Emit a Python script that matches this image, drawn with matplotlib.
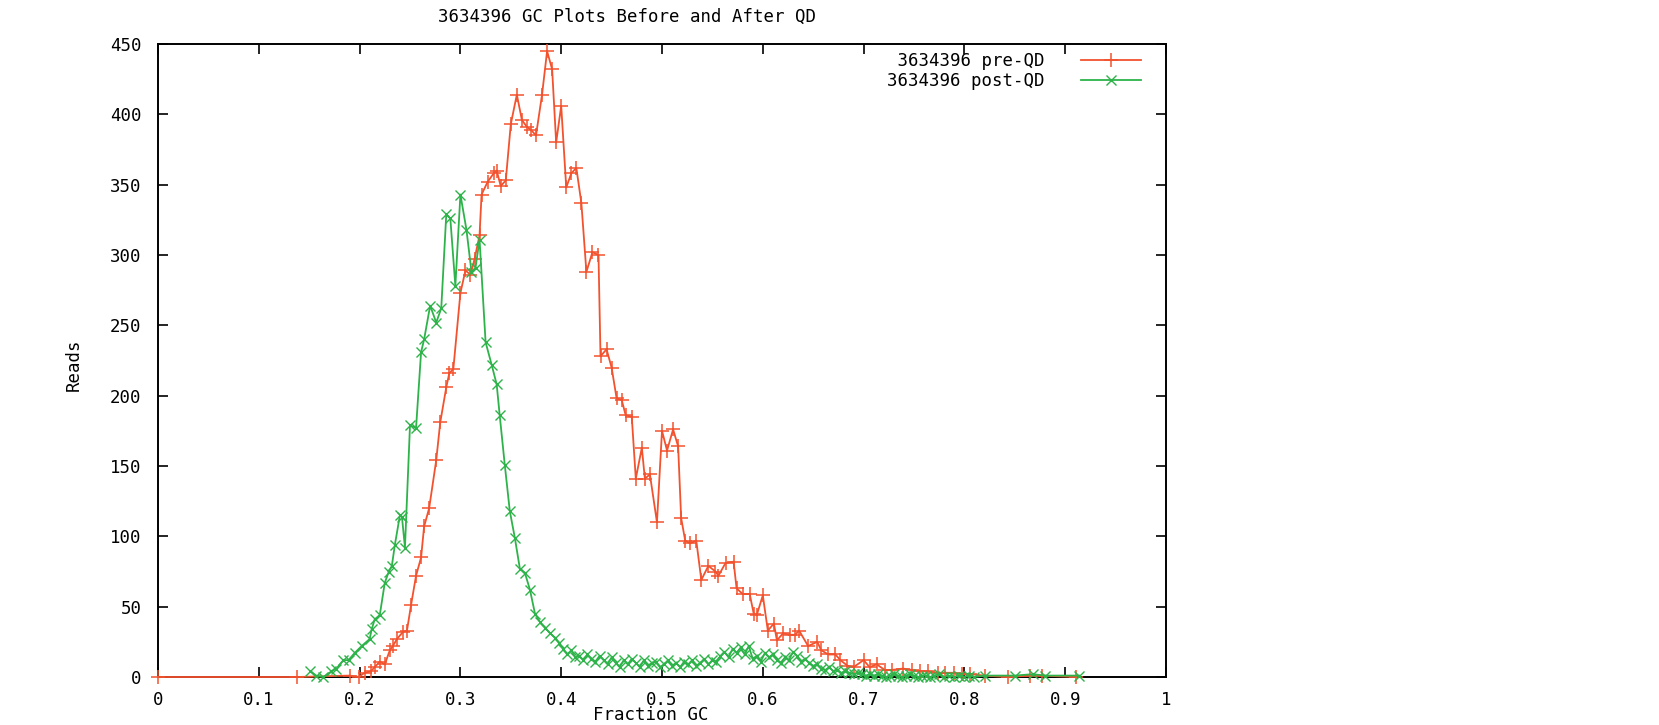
import numpy as np
import matplotlib
matplotlib.use('Agg')
import matplotlib.pyplot as plt

# GC fraction vs read counts
pre_gc = [0, 0.138, 0.19, 0.199, 0.205, 0.211, 0.215, 0.22, 0.225, 0.23, 0.233, 0.237,
          0.243, 0.247, 0.251, 0.256, 0.261, 0.264, 0.269, 0.276, 0.28, 0.286, 0.289,
          0.293, 0.3, 0.305, 0.31, 0.314, 0.319, 0.321, 0.327, 0.333, 0.336, 0.34, 0.345,
          0.35, 0.356, 0.361, 0.366, 0.37, 0.375, 0.381, 0.386, 0.391, 0.395, 0.4, 0.405,
          0.41, 0.415, 0.42, 0.425, 0.431, 0.437, 0.439, 0.445, 0.45, 0.455, 0.46, 0.464,
          0.47, 0.474, 0.48, 0.483, 0.488, 0.495, 0.5, 0.505, 0.511, 0.516, 0.519, 0.523,
          0.528, 0.534, 0.539, 0.546, 0.553, 0.556, 0.563, 0.571, 0.574, 0.58, 0.587,
          0.591, 0.594, 0.6, 0.605, 0.611, 0.614, 0.62, 0.627, 0.632, 0.636, 0.645, 0.654,
          0.658, 0.665, 0.672, 0.677, 0.684, 0.69, 0.7, 0.706, 0.713, 0.721, 0.728, 0.739,
          0.748, 0.756, 0.764, 0.774, 0.781, 0.79, 0.798, 0.806, 0.82, 0.843, 0.865, 0.877,
          0.911]
pre_reads = [0, 0, 1, 0, 3, 4, 7, 11, 9, 19, 22, 27,
             32, 33, 51, 72, 85, 107, 120, 154, 181, 206, 216,
             219, 273, 289, 286, 297, 314, 343, 352, 358, 360, 349, 353,
             393, 414, 396, 391, 389, 385, 414, 445, 432, 380, 406, 348,
             358, 362, 337, 288, 302, 300, 228, 233, 220, 198, 197, 186,
             185, 141, 163, 141, 144, 110, 175, 161, 176, 164, 113, 97,
             95, 97, 69, 79, 75, 72, 81, 82, 63, 59, 59,
             45, 44, 58, 33, 38, 26, 31, 30, 30, 33, 22, 25,
             19, 16, 16, 12, 8, 7, 12, 7, 9, 5, 5, 6,
             5, 4, 4, 3, 3, 3, 2, 2, 1, 0, 1, 1,
             0]

post_gc = [0.151, 0.157, 0.164, 0.172, 0.177, 0.184, 0.189, 0.195, 0.202, 0.21, 0.212,
           0.215, 0.22, 0.225, 0.229, 0.232, 0.235, 0.24, 0.242, 0.245, 0.25, 0.256,
           0.261, 0.264, 0.27, 0.276, 0.281, 0.286, 0.29, 0.295, 0.3, 0.306, 0.311, 0.315,
           0.319, 0.325, 0.331, 0.336, 0.339, 0.344, 0.349, 0.354, 0.359, 0.364, 0.369,
           0.374, 0.379, 0.384, 0.389, 0.394, 0.398, 0.402, 0.406, 0.41, 0.414, 0.418,
           0.422, 0.426, 0.43, 0.434, 0.438, 0.442, 0.446, 0.45, 0.454, 0.458, 0.462,
           0.466, 0.47, 0.474, 0.478, 0.482, 0.486, 0.49, 0.494, 0.498, 0.502, 0.506,
           0.51, 0.514, 0.518, 0.522, 0.526, 0.53, 0.534, 0.538, 0.542, 0.546, 0.55,
           0.554, 0.558, 0.562, 0.566, 0.57, 0.574, 0.578, 0.582, 0.586, 0.59, 0.594,
           0.598, 0.602, 0.606, 0.61, 0.614, 0.618, 0.622, 0.626, 0.63, 0.634, 0.638,
           0.642, 0.646, 0.65, 0.654, 0.658, 0.662, 0.666, 0.67, 0.674, 0.678, 0.682,
           0.686, 0.69, 0.694, 0.698, 0.702, 0.706, 0.71, 0.714, 0.718, 0.722, 0.726,
           0.73, 0.734, 0.738, 0.742, 0.746, 0.75, 0.754, 0.758, 0.762, 0.766, 0.77,
           0.775, 0.78, 0.785, 0.79, 0.795, 0.8, 0.805, 0.81, 0.82, 0.85, 0.868, 0.88,
           0.914]
post_reads = [4, 1, 0, 4, 6, 12, 12, 17, 22, 27, 34,
              41, 44, 67, 75, 79, 94, 115, 114, 92, 179, 177,
              231, 240, 264, 252, 262, 329, 326, 278, 343, 318, 288, 291,
              311, 238, 222, 208, 186, 151, 118, 99, 77, 74, 62,
              45, 39, 35, 31, 28, 24, 20, 16, 19, 14, 15,
              12, 16, 13, 11, 15, 12, 9, 14, 10, 7, 12,
              9, 13, 10, 7, 12, 8, 10, 11, 7, 9, 12,
              8, 10, 7, 11, 9, 12, 8, 10, 13, 9, 12,
              11, 15, 18, 14, 20, 17, 21, 16, 22, 13, 15,
              11, 17, 14, 16, 12, 10, 14, 12, 18, 15, 11,
              13, 10, 8, 9, 6, 5, 7, 4, 5, 3, 4,
              3, 2, 3, 2, 1, 2, 1, 2, 1, 0, 1,
              2, 1, 0, 1, 2, 1, 0, 1, 1, 0, 1,
              2, 0, 1, 0, 1, 0, 1, 0, 1, 1, 2, 1,
              1]

labels = ['3634396 pre-QD', '3634396 post-QD']
xticks = [0, 0.1, 0.2, 0.3, 0.4, 0.5, 0.6, 0.7, 0.8, 0.9, 1]
xticklabels = ['0', '0.1', '0.2', '0.3', '0.4', '0.5', '0.6', '0.7', '0.8', '0.9', '1']

plt.rcParams['font.family'] = 'DejaVu Sans Mono'
plt.rcParams['font.size'] = 12.5

fig = plt.figure(figsize=(16.59, 7.25), dpi=100)
ax = fig.add_axes([158/1659, 48/725, 1008/1659, 633/725])

# gnuplot draws the curves on top of the border, so no clipping
ax.plot(pre_gc, pre_reads, color='#f2522e', lw=1.3, marker='+', ms=10, mew=1.1,
        label=' ' + labels[0], clip_on=False, zorder=3)
ax.plot(post_gc, post_reads, color='#2db34a', lw=1.3, marker='x', ms=7.5, mew=1.0,
        label=labels[1], clip_on=False, zorder=3)

ax.set_xlim(0, 1)
ax.set_ylim(0, 450)
ax.set_xticks(xticks)
ax.set_xticklabels(xticklabels)
ax.set_yticks(np.arange(0, 451, 50))
ax.tick_params(direction='in', length=7, width=1.2, top=True, right=True)
ax.tick_params(axis='y', pad=12)
ax.tick_params(axis='x', pad=10)
for s in ax.spines.values():
    s.set_linewidth(1.4)
    s.set_zorder(2)

fig.text(627/1659, 1 - 17/725, '3634396 GC Plots Before and After QD',
         ha='center', va='center')
fig.text(74/1659, 1 - 365/725, 'Reads', rotation=90, ha='center', va='center')
fig.text(651/1659, 1/725, 'Fraction GC', ha='center', va='bottom')

ax.legend(loc='upper right', bbox_to_anchor=(1150/1659, 1 - 43/725),
          bbox_transform=fig.transFigure, frameon=False, markerfirst=False,
          borderpad=0, handlelength=3.5, handletextpad=2.1, labelspacing=0.15)

fig.savefig('out.png', dpi=100)
